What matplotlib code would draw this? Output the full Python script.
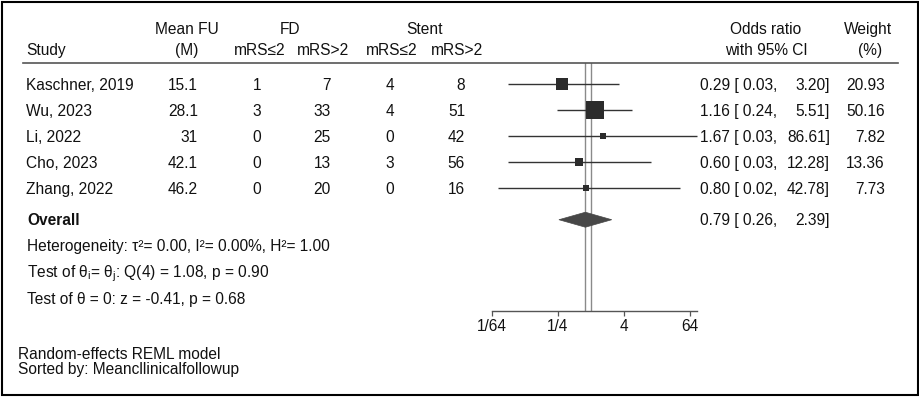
import numpy as np
import matplotlib
matplotlib.use("Agg")
import matplotlib.pyplot as plt
from matplotlib.transforms import blended_transform_factory, ScaledTranslation
from matplotlib.patches import Polygon, Rectangle
from matplotlib.lines import Line2D

# ---------------- data ----------------
studies = ["Kaschner, 2019", "Wu, 2023", "Li, 2022", "Cho, 2023", "Zhang, 2022"]
mean_fu = [15.1, 28.1, 31, 42.1, 46.2]
fd_good = [1, 3, 0, 0, 0]
fd_poor = [7, 33, 25, 13, 20]
stent_good = [4, 4, 0, 3, 0]
stent_poor = [8, 51, 42, 56, 16]
odds_ratio = [0.29, 1.16, 1.67, 0.60, 0.80]
ci_low = [0.03, 0.24, 0.03, 0.03, 0.02]
ci_high = [3.20, 5.51, 86.61, 12.28, 42.78]
weights = [20.93, 50.16, 7.82, 13.36, 7.73]
overall_or = 0.79
overall_low = 0.26
overall_high = 2.39
tick_values = [1 / 64, 1 / 4, 4, 64]
tick_labels = ["1/64", "1/4", "4", "64"]

# ---------------- style ----------------
plt.rcParams['font.family'] = ['Liberation Sans', 'DejaVu Sans']
plt.rcParams['mathtext.fontset'] = 'custom'
plt.rcParams['mathtext.rm'] = 'Liberation Sans'
plt.rcParams['mathtext.it'] = 'Liberation Sans:italic'
plt.rcParams['mathtext.bf'] = 'Liberation Sans:bold'
FS = 11.2
TXT = '#111111'

W, H = 920, 397
fig = plt.figure(figsize=(W / 100, H / 100), dpi=100)

def fx(x):
    return x / W

def fy(y):
    return 1 - y / H

# forest axes: spans from header rule (y=63px) to x-axis (y=310.7px)
top_px, axis_px = 63.0, 310.7
x_left_px = 492.0
row0_px, row_step = 84.0, 26.1
x_right_px = 591.0 + 16.5 * np.log2(max(ci_high))
ax = fig.add_axes([fx(x_left_px), fy(axis_px), (x_right_px - x_left_px) / W,
                   (axis_px - top_px) / H])
ax.set_xscale('log', base=2)
ax.set_xlim(1 / 64, max(ci_high))
ylim_bottom = (axis_px - row0_px) / row_step
ylim_top = (top_px - row0_px) / row_step
ax.set_ylim(ylim_bottom, ylim_top)

n = len(studies)
rows = np.arange(n)
overall_row = 5.2

# reference lines (overall effect and no effect)
ax.axvline(overall_or, color='#8a8a8a', lw=1.0, zorder=1)
ax.axvline(1.0, color='#8a8a8a', lw=1.0, zorder=1)

# CI lines + squares
for i in range(n):
    ax.plot([ci_low[i], ci_high[i]], [rows[i], rows[i]], color='#333333', lw=1.0,
            solid_capstyle='butt', zorder=2, clip_on=False)
    ax.plot([odds_ratio[i]], [rows[i]], marker='s', ms=1.74 * np.sqrt(weights[i]),
            color='#2b2b2b', mec='#2b2b2b', mew=0, zorder=3, clip_on=False)

# overall diamond
half_h = 7.5 / row_step
diamond = Polygon([[overall_low, overall_row], [overall_or, overall_row - half_h],
                   [overall_high, overall_row], [overall_or, overall_row + half_h]],
                  closed=True, facecolor='#474747', edgecolor='#474747', lw=0.5, zorder=3)
ax.add_patch(diamond)

# axis styling
for s in ['top', 'right', 'left']:
    ax.spines[s].set_visible(False)
ax.spines['bottom'].set_color('#555555')
ax.spines['bottom'].set_linewidth(1.0)
ax.set_yticks([])
ax.set_xticks(tick_values)
ax.set_xticklabels(tick_labels)
ax.minorticks_off()
ax.tick_params(axis='x', direction='out', length=3.3, width=0.9, color='#555555',
               pad=3.0, labelsize=FS, labelcolor=TXT)
ax.patch.set_visible(False)

# ---------------- text ----------------
row_trans = blended_transform_factory(fig.transFigure, ax.transData) + \
    ScaledTranslation(0, -5.6 / 100, fig.dpi_scale_trans)

def rtext(x_px, row, s, ha='left', **kw):
    fig.text(fx(x_px), row, s, transform=row_trans, ha=ha, va='baseline',
             fontsize=FS, color=TXT, **kw)

def ptext(x_px, y_center_px, s, ha='left', **kw):
    fig.text(fx(x_px), fy(y_center_px + 5.6), s, ha=ha, va='baseline',
             fontsize=FS, color=TXT, **kw)

# headers
h1, h2 = 28.3, 49.5
ptext(187, h1, "Mean FU", ha='center')
ptext(290, h1, "FD", ha='center')
ptext(425, h1, "Stent", ha='center')
ptext(766, h1, "Odds ratio", ha='center')
ptext(868, h1, "Weight", ha='center')
ptext(26.5, h2, "Study")
ptext(187, h2, "(M)", ha='center')
ptext(259.5, h2, "mRS≤2", ha='center')
ptext(323.5, h2, "mRS>2", ha='center')
ptext(392, h2, "mRS≤2", ha='center')
ptext(457.5, h2, "mRS>2", ha='center')
ptext(766, h2, "with 95% CI", ha='center')
ptext(870, h2, "(%)", ha='center')

# header rule
fig.add_artist(Line2D([fx(23), fx(898)], [fy(top_px), fy(top_px)], color='#555555', lw=1.2))

# study rows
for i in range(n):
    rtext(26.5, rows[i], studies[i])
    rtext(198, rows[i], f"{mean_fu[i]:g}", ha='right')
    rtext(261.5, rows[i], f"{fd_good[i]}", ha='right')
    rtext(331, rows[i], f"{fd_poor[i]}", ha='right')
    rtext(394, rows[i], f"{stent_good[i]}", ha='right')
    rtext(465, rows[i], f"{stent_poor[i]}", ha='right')
    rtext(700, rows[i], f"{odds_ratio[i]:.2f} [ {ci_low[i]:.2f},")
    rtext(830, rows[i], f"{ci_high[i]:.2f}]", ha='right')
    rtext(885, rows[i], f"{weights[i]:.2f}", ha='right')

# overall
rtext(27.5, overall_row, "Overall", fontweight='bold')
rtext(700, overall_row, f"{overall_or:.2f} [ {overall_low:.2f},")
rtext(830, overall_row, f"{overall_high:.2f}]", ha='right')

rtext(27, 6.2, "Heterogeneity: τ²= 0.00, I²= 0.00%, H²= 1.00")
rtext(27, 7.2, r"Test of $\mathregular{\theta_i}$= $\mathregular{\theta_j}$: Q(4) = 1.08, p = 0.90")
rtext(27, 8.2, "Test of θ = 0: z = -0.41, p = 0.68")

# footnotes
ptext(18.3, 353, "Random-effects REML model")
ptext(18.3, 368, "Sorted by: Meancllinicalfollowup")

# border
fig.add_artist(Rectangle((fx(1.7), fy(394.5)), fx(918) - fx(1.7), fy(2.3) - fy(394.5),
                         transform=fig.transFigure, fill=False, edgecolor='black', lw=1.5))

fig.savefig("out.png", dpi=100)
